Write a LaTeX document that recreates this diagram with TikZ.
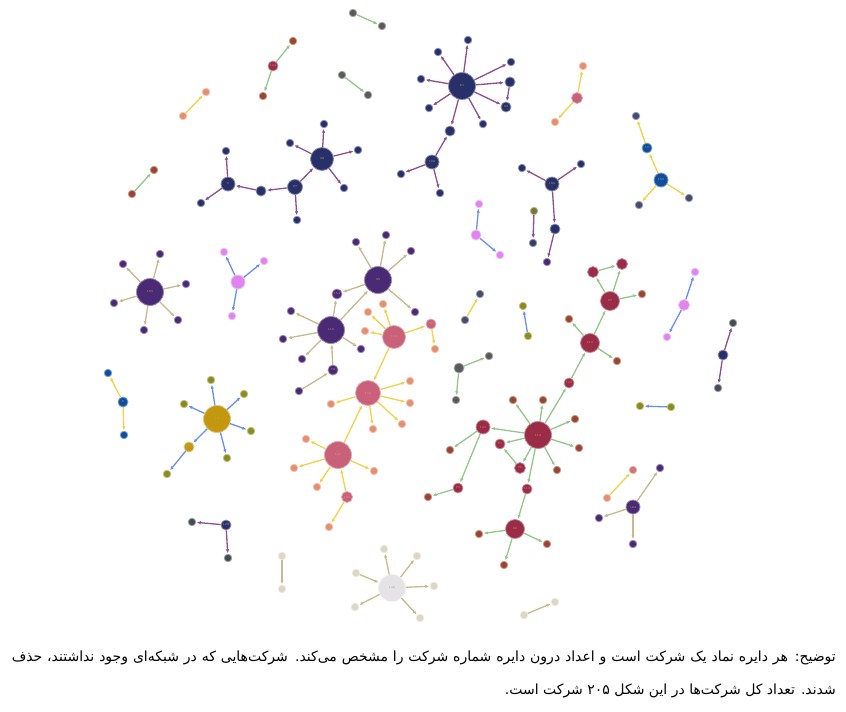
\documentclass[tikz,border=0pt]{standalone}
\usepackage{fontspec}
\usetikzlibrary{arrows.meta}
\TeXXeTstate=1
\newfontfamily\fa[Script=Arabic]{DejaVu Sans}
\definecolor{cNavy}{HTML}{28306A}
\definecolor{eNavy}{HTML}{8E4F8F}
\definecolor{cPur}{HTML}{4B2A75}
\definecolor{eBeige}{HTML}{C9B98E}
\definecolor{cPink}{HTML}{C9617A}
\definecolor{cOrange}{HTML}{E49070}
\definecolor{eYellow}{HTML}{F2D24A}
\definecolor{cMaroon}{HTML}{9B2C47}
\definecolor{cBrown}{HTML}{9A4530}
\definecolor{eGreen}{HTML}{96C78A}
\definecolor{cMustard}{HTML}{C4980E}
\definecolor{cOlive}{HTML}{8C8C1E}
\definecolor{eBlue}{HTML}{6A8FF2}
\definecolor{cViolet}{HTML}{E184F0}
\definecolor{cBlue}{HTML}{0F4E9E}
\definecolor{cGray}{HTML}{5A5A5A}
\definecolor{cLight}{HTML}{E5E3E5}
\definecolor{cBeigeLeaf}{HTML}{DCD6C4}
\definecolor{cLabel}{HTML}{D8A060}
\tikzset{
  nd/.style={circle,inner sep=0pt,fill=#1,draw=#1!55!white,line width=0.8pt,
    font=\fontsize{3}{3}\selectfont,text=cLabel},
  lf/.style={nd=#1,minimum size=7.5pt},
  ed/.style={draw=#1,line width=1.3pt,-{Latex[length=4pt,width=3.4pt]},shorten >=0.6pt}
}
\begin{document}
\begin{tikzpicture}[x=1pt,y=-1pt]
\useasboundingbox (0,0) rectangle (846,712);
\fill[white] (0,0) rectangle (846,712);

% ---------- navy cluster 38 ----------
\node[nd=cNavy,minimum size=23pt] (n38) at (322,159) {38};
\node[lf=cNavy] (a1) at (324,124) {};
\node[lf=cNavy] (a2) at (290,143) {};
\node[lf=cNavy] (a3) at (358,150) {};
\node[lf=cNavy] (a4) at (344,188) {};
\node[nd=cNavy,minimum size=15pt] (n27) at (295,187) {27};
\node[lf=cNavy] (a5) at (297,220) {};
\node[nd=cNavy,minimum size=10pt] (a6) at (261,191) {};
\node[nd=cNavy,minimum size=14pt] (n9) at (228,184) {9};
\node[lf=cNavy] (a7) at (226,151) {};
\node[lf=cNavy] (a8) at (201,203) {};
\foreach \t in {a1,a2,a3,a4} \draw[ed=eNavy] (n38) -- (\t);
\draw[ed=eNavy] (n27) -- (n38);
\draw[ed=eNavy] (n27) -- (a5);
\draw[ed=eNavy] (n27) -- (a6);
\draw[ed=eNavy] (a6) -- (n9);
\draw[ed=eNavy] (n9) -- (a7);
\draw[ed=eNavy] (n9) -- (a8);

% ---------- navy cluster 81 ----------
\node[nd=cNavy,minimum size=27pt] (n81) at (462,86) {81};
\node[lf=cNavy] (b1) at (468,40) {};
\node[lf=cNavy] (b2) at (438,52) {};
\node[lf=cNavy] (b3) at (511,62) {};
\node[lf=cNavy] (b4) at (421,79) {};
\node[nd=cNavy,minimum size=10pt] (b5) at (510,82) {};
\node[nd=cNavy,minimum size=10pt] (b6) at (506,107) {92};
\node[lf=cNavy] (b7) at (429,108) {};
\node[lf=cNavy] (b8) at (483,124) {};
\node[nd=cNavy,minimum size=10pt] (b9) at (450,131) {};
\foreach \t in {b1,b2,b3,b4,b5,b6,b7,b8,b9} \draw[ed=eNavy] (n81) -- (\t);
\draw[ed=eNavy] (b5) -- (b6);
\node[nd=cNavy,minimum size=14pt] (n126) at (432,162) {126};
\node[lf=cNavy] (c1) at (401,174) {};
\node[lf=cNavy] (c2) at (440,193) {};
\draw[ed=eNavy] (n126) -- (b9);
\draw[ed=eNavy] (n126) -- (c1);
\draw[ed=eNavy] (n126) -- (c2);

% ---------- navy cluster 139 ----------
\node[nd=cNavy,minimum size=14pt] (d0) at (552,184) {139};
\node[lf=cNavy] (d1) at (522,168) {};
\node[lf=cNavy] (d2) at (581,164) {};
\node[nd=cNavy,minimum size=10pt] (d3) at (555,229) {};
\node[lf=cPur] (d4) at (547,262) {};
\draw[ed=eNavy] (d0) -- (d1);
\draw[ed=eNavy] (d0) -- (d2);
\draw[ed=eNavy] (d0) -- (d3);
\draw[ed=eNavy] (d3) -- (d4);
\node[lf=cOlive!60!cGray] (e1) at (534,211) {};
\node[lf=cNavy!70!cGray] (e2) at (533,243) {};
\draw[ed=eNavy] (e1) -- (e2);

% ---------- small pairs top ----------
\node[lf=cGray] (u1) at (353,13) {};
\node[lf=cGray] (u2) at (382,26) {};
\draw[ed=eGreen] (u1) -- (u2);
\node[lf=cGray] (v1) at (342,75) {};
\node[lf=cGray] (v2) at (368,95) {};
\draw[ed=eGreen] (v1) -- (v2);
\node[nd=cMaroon,minimum size=10pt] (w0) at (273,66) {104};
\node[lf=cBrown] (w1) at (293,41) {};
\node[lf=cBrown] (w2) at (263,96) {};
\draw[ed=eGreen] (w0) -- (w1);
\draw[ed=eGreen] (w0) -- (w2);
\node[lf=cOrange] (x1) at (183,116) {};
\node[lf=cOrange] (x2) at (206,92) {};
\draw[ed=eYellow] (x1) -- (x2);
\node[lf=cBrown] (y1) at (132,194) {};
\node[lf=cBrown] (y2) at (154,170) {};
\draw[ed=eGreen] (y1) -- (y2);

% ---------- pink top ----------
\node[nd=cPink,minimum size=11pt] (f0) at (577,98) {};
\node[lf=cOrange] (f1) at (583,66) {};
\node[lf=cOrange] (f2) at (555,122) {};
\draw[ed=eYellow] (f0) -- (f1);
\draw[ed=eYellow] (f0) -- (f2);

% ---------- blue/yellow top right ----------
\node[nd=cBlue,minimum size=14pt] (g0) at (661,180) {159};
\node[nd=cBlue,minimum size=10pt] (g1) at (647,148) {19};
\node[lf=cBlue!60!cBrown] (g2) at (636,116) {};
\node[lf=cBlue!60!cBrown] (g3) at (639,205) {};
\node[lf=cBlue!60!cBrown] (g4) at (689,198) {};
\draw[ed=eYellow] (g0) -- (g1);
\draw[ed=eYellow] (g1) -- (g2);
\draw[ed=eYellow] (g0) -- (g3);
\draw[ed=eYellow] (g0) -- (g4);

% ---------- violet 44 ----------
\node[nd=cViolet,minimum size=10pt] (h0) at (476,235) {44};
\node[lf=cViolet] (h1) at (479,204) {};
\node[lf=cViolet] (h2) at (500,255) {};
\draw[ed=eBlue] (h0) -- (h1);
\draw[ed=eBlue] (h0) -- (h2);

% ---------- purple cluster 165 ----------
\node[nd=cPur,minimum size=27pt] (n165) at (150,292) {165};
\node[lf=cPur] (k01) at (123,264) {};
\node[lf=cPur] (k02) at (160,254) {};
\node[lf=cPur] (k03) at (186,284) {};
\node[lf=cPur] (k04) at (114,303) {};
\node[lf=cPur] (k05) at (178,320) {};
\node[lf=cPur] (k06) at (144,330) {};
\foreach \t in {k01,k02,k03,k04,k05,k06} \draw[ed=eBeige] (n165) -- (\t);

% ---------- violet 6 ----------
\node[nd=cViolet,minimum size=14pt] (i0) at (238,282) {6};
\node[lf=cViolet] (i1) at (224,252) {};
\node[lf=cViolet] (i2) at (264,261) {};
\node[lf=cViolet] (i3) at (232,316) {};
\foreach \t in {i1,i2,i3} \draw[ed=eBlue] (i0) -- (\t);

% ---------- purple cluster 35 / 116 ----------
\node[nd=cPur,minimum size=27pt] (n35) at (378,280) {35};
\node[lf=cPur] (j1) at (356,242) {};
\node[lf=cPur] (j2) at (386,235) {};
\node[lf=cPur] (j3) at (411,251) {};
\node[lf=cPur] (j4) at (415,312) {};
\node[nd=cPur,minimum size=10pt] (j5) at (337,294) {154};
\foreach \t in {j1,j2,j3,j4,j5} \draw[ed=eBeige] (n35) -- (\t);
\node[nd=cPur,minimum size=27pt] (n116) at (331,330) {116};
\draw[ed=eBeige] (n116) -- (n35);
\draw[ed=eBeige] (n116) -- (j5);
\node[lf=cPur] (m01) at (291,311) {};
\node[lf=cPur] (m02) at (283,339) {};
\node[lf=cPur] (m03) at (302,359) {};
\node[lf=cPur] (m04) at (361,349) {};
\foreach \t in {m01,m02,m03,m04} \draw[ed=eBeige] (n116) -- (\t);
\node[nd=cPur,minimum size=10pt] (n72) at (333,370) {72};
\node[lf=cPur] (m05) at (299,391) {};
\draw[ed=eBeige] (n72) -- (n116);
\draw[ed=eBeige] (m05) -- (n72);

% ---------- pink cluster 102 / 142 / 160 ----------
\node[nd=cPink,minimum size=23pt] (n102) at (394,337) {102};
\node[lf=cOrange] (l1) at (368,312) {};
\node[lf=cOrange] (l2) at (383,304) {};
\node[lf=cOrange] (l3) at (365,331) {};
\node[nd=cPink,minimum size=10pt] (n48) at (431,324) {48};
\node[lf=cOrange] (l4) at (435,349) {};
\foreach \t in {l1,l2,l3,n48} \draw[ed=eYellow] (n102) -- (\t);
\draw[ed=eYellow] (n48) -- (l4);
\node[nd=cPink,minimum size=25pt] (n142) at (368,393) {142};
\draw[ed=eYellow] (n102) -- (n142);
\node[lf=cOrange] (o01) at (410,381) {};
\node[lf=cOrange] (o02) at (410,403) {};
\node[lf=cOrange] (o03) at (402,424) {};
\node[lf=cOrange] (o04) at (373,429) {};
\node[lf=cOrange] (o05) at (331,404) {};
\foreach \t in {o01,o02,o03,o04,o05} \draw[ed=eYellow] (n142) -- (\t);
\node[nd=cPink,minimum size=27pt] (n160) at (338,455) {160};
\draw[ed=eYellow] (n160) -- (n142);
\node[lf=cOrange] (o06) at (306,439) {};
\node[lf=cOrange] (o07) at (294,468) {};
\node[lf=cOrange] (o08) at (374,471) {};
\node[lf=cOrange] (o09) at (317,487) {};
\foreach \t in {o06,o07,o08,o09} \draw[ed=eYellow] (n160) -- (\t);
\node[nd=cPink,minimum size=11pt] (n122) at (347,497) {122};
\node[lf=cOrange] (o10) at (329,527) {};
\draw[ed=eYellow] (n122) -- (n160);
\draw[ed=eYellow] (n122) -- (o10);

% ---------- blue/yellow left ----------
\node[nd=cBlue,minimum size=10pt] (p0) at (123,402) {8};
\node[lf=cBlue] (p1) at (108,373) {};
\node[lf=cBlue] (p2) at (124,435) {};
\draw[ed=eYellow] (p0) -- (p1);
\draw[ed=eYellow] (p0) -- (p2);

% ---------- mustard cluster 13 ----------
\node[nd=cMustard,minimum size=27pt] (n13) at (217,419) {13};
\node[lf=cOlive] (q1) at (211,380) {};
\node[lf=cOlive] (q2) at (244,394) {};
\node[lf=cOlive] (q3) at (184,404) {};
\node[lf=cOlive] (q4) at (251,431) {};
\node[lf=cOlive] (q5) at (227,458) {};
\node[nd=cMustard,minimum size=10pt] (q6) at (189,447) {100};
\node[lf=cOlive] (q7) at (167,474) {};
\foreach \t in {q1,q2,q3,q4,q5,q6} \draw[ed=eBlue] (n13) -- (\t);
\draw[ed=eBlue] (q6) -- (q7);

% ---------- navy small 128 ----------
\node[nd=cNavy,minimum size=10pt] (r0) at (226,525) {128};
\node[lf=cNavy!70!cOlive] (r1) at (192,522) {};
\node[lf=cNavy!70!cOlive] (r2) at (228,558) {};
\draw[ed=eNavy] (r0) -- (r1);
\draw[ed=eNavy] (r0) -- (r2);

% ---------- beige pair ----------
\node[lf=cBeigeLeaf] (s1) at (282,556) {};
\node[lf=cBeigeLeaf] (s2) at (282,589) {};
\draw[ed=eBeige] (s1) -- (s2);

% ---------- light cluster 146 ----------
\node[nd=cLight,minimum size=27pt,text=cBeigeLeaf!70!black] (n146) at (392,588) {146};
\node[lf=cBeigeLeaf] (t1) at (384,549) {};
\node[lf=cBeigeLeaf] (t2) at (417,556) {};
\node[lf=cBeigeLeaf] (t3) at (356,573) {};
\node[lf=cBeigeLeaf] (t4) at (434,586) {};
\node[lf=cBeigeLeaf] (t5) at (355,607) {};
\node[lf=cBeigeLeaf] (t6) at (420,618) {};
\foreach \t in {t1,t2,t4,t5,t6} \draw[ed=eBeige] (n146) -- (\t);
\draw[ed=eBeige] (t3) -- (n146);

% ---------- right-side small components ----------
\node[lf=cBlue!60!cBrown] (z1) at (465,320) {};
\node[lf=cBlue!60!cBrown] (z2) at (480,294) {};
\draw[ed=eYellow] (z1) -- (z2);
\node[lf=cOlive] (bb1) at (528,336) {};
\node[lf=cOlive] (bb2) at (523,306) {};
\draw[ed=eBlue] (bb1) -- (bb2);
\node[nd=cGray,minimum size=10pt] (gg0) at (459,368) {};
\node[lf=cGray] (gg1) at (489,356) {};
\node[lf=cGray] (gg2) at (456,400) {};
\draw[ed=eGreen] (gg0) -- (gg1);
\draw[ed=eGreen] (gg0) -- (gg2);
\node[nd=cViolet,minimum size=11pt] (vv0) at (684,305) {95};
\node[lf=cViolet] (vv1) at (695,272) {};
\node[lf=cViolet] (vv2) at (667,337) {};
\draw[ed=eBlue] (vv0) -- (vv1);
\draw[ed=eBlue] (vv0) -- (vv2);
\node[nd=cNavy,minimum size=10pt] (nn0) at (723,355) {};
\node[lf=cNavy!70!cOlive] (nn1) at (733,323) {};
\node[lf=cNavy!70!cOlive] (nn2) at (718,388) {};
\draw[ed=eNavy] (nn0) -- (nn1);
\draw[ed=eNavy] (nn0) -- (nn2);
\node[lf=cOlive] (hb1) at (671,407) {};
\node[lf=cOlive] (hb2) at (640,406) {};
\draw[ed=eBlue] (hb1) -- (hb2);
\node[lf=cOrange] (yp1) at (607,498) {};
\node[lf=cPink!60!cOrange] (yp2) at (633,470) {};
\draw[ed=eYellow] (yp1) -- (yp2);
\node[nd=cPur,minimum size=14pt] (n124) at (633,507) {124};
\node[lf=cPur] (pp1) at (660,468) {};
\node[lf=cPur] (pp2) at (599,518) {};
\node[lf=cPur] (pp3) at (633,544) {};
\foreach \t in {pp1,pp2,pp3} \draw[ed=eBeige] (n124) -- (\t);
\node[lf=cBeigeLeaf] (bt1) at (524,615) {};
\node[lf=cBeigeLeaf] (bt2) at (555,602) {};
\draw[ed=eBeige] (bt1) -- (bt2);

% ---------- red cluster ----------
\node[nd=cMaroon,minimum size=19pt] (n97) at (610,301) {97};
\node[nd=cMaroon,minimum size=11pt] (rr1) at (593,272) {};
\node[nd=cMaroon,minimum size=11pt] (rr2) at (622,264) {};
\node[lf=cBrown] (rr3) at (642,294) {};
\draw[ed=eGreen] (n97) -- (rr1);
\draw[ed=eGreen] (n97) -- (rr2);
\draw[ed=eGreen] (rr1) -- (rr2);
\draw[ed=eGreen] (n97) -- (rr3);
\node[nd=cMaroon,minimum size=19pt] (n110) at (590,343) {110};
\node[lf=cBrown] (rr4) at (569,319) {};
\node[lf=cBrown] (rr5) at (617,361) {};
\draw[ed=eGreen] (n110) -- (n97);
\draw[ed=eGreen] (n110) -- (rr4);
\draw[ed=eGreen] (n110) -- (rr5);
\node[nd=cMaroon,minimum size=10pt] (n140) at (569,383) {140};
\draw[ed=eGreen] (n140) -- (n110);
\node[nd=cMaroon,minimum size=27pt] (n112) at (538,435) {112};
\draw[ed=eGreen] (n112) -- (n140);
\node[lf=cBrown] (ss1) at (513,400) {};
\node[lf=cBrown] (ss2) at (543,400) {};
\node[lf=cBrown] (ss3) at (575,419) {};
\node[lf=cBrown] (ss4) at (579,448) {};
\node[lf=cBrown] (ss5) at (557,470) {};
\node[nd=cMaroon,minimum size=14pt] (n141) at (483,427) {141};
\node[nd=cMaroon,minimum size=10pt] (n71) at (500,444) {71};
\node[nd=cMaroon,minimum size=11pt] (n79) at (520,468) {79};
\foreach \t in {ss1,ss2,ss3,ss4,ss5,n141,n71,n79} \draw[ed=eGreen] (n112) -- (\t);
\draw[ed=eGreen] (n79) -- (n71);
\node[lf=cBrown] (sa1) at (450,450) {};
\node[nd=cMaroon,minimum size=10pt] (n76) at (458,488) {76};
\node[lf=cBrown] (sa2) at (428,497) {};
\draw[ed=eGreen] (n141) -- (sa1);
\draw[ed=eGreen] (n141) -- (n76);
\draw[ed=eGreen] (n76) -- (sa2);
\node[nd=cMaroon,minimum size=10pt] (n113) at (527,489) {113};
\node[nd=cMaroon,minimum size=19pt] (n86) at (515,529) {86};
\draw[ed=eGreen] (n112) -- (n113);
\draw[ed=eGreen] (n113) -- (n86);
\node[lf=cBrown] (sb1) at (479,534) {};
\node[lf=cBrown] (sb2) at (547,544) {};
\node[lf=cBrown] (sb3) at (504,565) {};
\foreach \t in {sb1,sb2,sb3} \draw[ed=eGreen] (n86) -- (\t);

% ---------- caption ----------
\node[anchor=east,inner sep=0pt] (cap1) at (836,658)
  {\fa\fontsize{14}{16}\selectfont\hbox to 824pt{\beginR توضیح: هر دایره نماد یک شرکت است و اعداد درون دایره شماره شرکت را مشخص می‌کند. شرکت‌هایی که در شبکه‌ای وجود نداشتند، حذف\endR}};
\node[anchor=east,inner sep=0pt] (cap2) at (836,691)
  {\fa\fontsize{14}{16}\selectfont\beginR شدند. تعداد کل شرکت‌ها در این شکل ۲۰۵ شرکت است.\endR};
\end{tikzpicture}
\end{document}
